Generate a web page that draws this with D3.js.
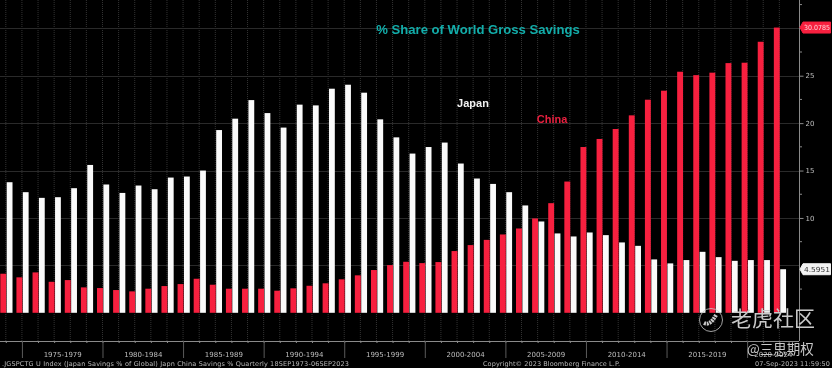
<!DOCTYPE html>
<html>
    <head>
        <meta charset="utf-8">
        <style>
            html, body {
                margin: 0;
                padding: 0;
                background: #000;
            }
            svg {
                display: block;
                filter: blur(0.45px);
            }
            .bar-china { fill: #f7203f; }
            .bar-japan { fill: #fafafa; }
            .grid line { stroke: #2a2a2a; stroke-width: 1; }
            .grid-x line { stroke-dasharray: 1 1; stroke: #333; }
            .axis text {
                font-family: "DejaVu Sans", sans-serif;
                font-size: 7px;
                fill: #bdbdbd;
            }
            .axis path, .axis line { stroke: #8a8a8a; }
            .footer {
                font-family: "DejaVu Sans", sans-serif;
                font-size: 6.5px;
                fill: #b8b8b8;
            }
            .note {
                font-family: "Liberation Sans", Arial, sans-serif;
                font-weight: bold;
            }
            .mark {
                font-family: "Noto Sans CJK SC", sans-serif;
                fill: #c9c9c9;
            }
        </style>
    </head>
    <body>
        <script src="https://d3js.org/d3.v7.min.js"></script>

        <script>
            // one pair of bars per year, first pair sits just before the 1975 separator
            const years = d3.range(1974, 2023);

            const japan = [
                13.77, 12.72, 12.12, 12.19, 13.14, 15.59, 13.53, 12.64, 13.42, 13.03,
                14.26, 14.37, 15.0, 19.27, 20.47, 22.43, 21.06, 19.53, 21.95, 21.87,
                23.63, 24.05, 23.21, 20.4, 18.5, 16.79, 17.48, 17.95, 15.74, 14.16,
                13.59, 12.72, 11.32, 9.63, 8.37, 8.05, 8.47, 8.19, 7.42, 7.06,
                5.63, 5.21, 5.56, 6.43, 5.87, 5.48, 5.56, 5.56, 4.5951
            ];

            const china = [
                4.12, 3.74, 4.26, 3.27, 3.45, 2.68, 2.61, 2.4, 2.26, 2.54,
                2.82, 3.03, 3.59, 2.96, 2.54, 2.54, 2.54, 2.33, 2.58, 2.85,
                3.11, 3.53, 3.95, 4.51, 5.03, 5.38, 5.24, 5.35, 6.51, 7.14,
                7.69, 8.26, 8.89, 9.95, 11.56, 13.84, 17.48, 18.33, 19.38, 20.82,
                22.47, 23.42, 25.42, 25.06, 25.32, 26.33, 26.37, 28.58, 30.0785
            ];

            const periods = [
                "1975-1979", "1980-1984", "1985-1989", "1990-1994", "1995-1999",
                "2000-2004", "2005-2009", "2010-2014", "2015-2019", "2020-2024"
            ];

            const majorTicks = [5, 10, 15, 20, 25, 30];
            const minorTicks = [2.5, 7.5, 12.5, 17.5, 22.5, 27.5, 32.5];
            const labelTicks = [10, 15, 20, 25];

            const width = 832;
            const height = 368;
            const axisX = 799;
            const axisY = 341;

            const svg = d3.select("body").append("svg")
                .attr("width", width)
                .attr("height", height);

            svg.append("rect")
                .attr("width", width)
                .attr("height", height)
                .attr("fill", "#000");

            const xScale = d3.scaleBand()
                .domain(years)
                .range([-1.75, 787.9]);

            const yScale = d3.scaleLinear()
                .domain([0, 30])
                .range([312.8, 28.3]);

            const center = d => xScale(d) + xScale.bandwidth() / 2;

            // period labels sit between separators, last one is cut off by the axis
            const periodScale = d3.scaleBand()
                .domain(periods)
                .range([center(1975), center(1975) + xScale.step() * 5 * periods.length]);

            // grid
            svg.append("g")
                .attr("class", "grid grid-x")
                .selectAll("line")
                .data(years)
                .join("line")
                .attr("x1", d => center(d) - 0.5)
                .attr("x2", d => center(d) - 0.5)
                .attr("y1", 0)
                .attr("y2", axisY);

            svg.append("g")
                .attr("class", "grid")
                .selectAll("line")
                .data(majorTicks)
                .join("line")
                .attr("x1", 0)
                .attr("x2", axisX)
                .attr("y1", d => Math.round(yScale(d)) + 0.5)
                .attr("y2", d => Math.round(yScale(d)) + 0.5);

            // bars
            svg.append("g")
                .selectAll("rect")
                .data(china)
                .join("rect")
                .attr("class", "bar-china")
                .attr("x", (d, i) => center(years[i]) - 6)
                .attr("y", d => yScale(d))
                .attr("width", 5.9)
                .attr("height", d => yScale(0) - yScale(d));

            svg.append("g")
                .selectAll("rect")
                .data(japan)
                .join("rect")
                .attr("class", "bar-japan")
                .attr("x", (d, i) => center(years[i]) + 0.4)
                .attr("y", d => yScale(d))
                .attr("width", 5.8)
                .attr("height", d => yScale(0) - yScale(d));

            // right axis
            const yAxis = d3.axisRight(yScale)
                .tickValues(labelTicks)
                .tickSize(4)
                .tickPadding(2)
                .tickSizeOuter(0);

            svg.append("g")
                .attr("class", "axis")
                .attr("transform", `translate(${axisX + 0.5},0)`)
                .call(yAxis)
                .call(g => g.select(".domain").remove());

            svg.append("line")
                .attr("x1", axisX + 0.5)
                .attr("x2", axisX + 0.5)
                .attr("y1", 0)
                .attr("y2", axisY)
                .attr("stroke", "#8a8a8a");

            const tickGroup = svg.append("g")
                .attr("stroke", "#8a8a8a");

            tickGroup.selectAll("line.minor")
                .data(minorTicks)
                .join("line")
                .attr("class", "minor")
                .attr("x1", axisX)
                .attr("x2", axisX + 3)
                .attr("y1", d => yScale(d))
                .attr("y2", d => yScale(d));

            // bottom axis
            svg.append("line")
                .attr("x1", 0)
                .attr("x2", axisX)
                .attr("y1", axisY + 0.5)
                .attr("y2", axisY + 0.5)
                .attr("stroke", "#8a8a8a");

            const xAxis = d3.axisBottom(xScale)
                .tickValues(years)
                .tickSize(2)
                .tickFormat("");

            svg.append("g")
                .attr("class", "axis")
                .attr("transform", `translate(0,${axisY})`)
                .call(xAxis)
                .call(g => g.select(".domain").remove());

            svg.append("g")
                .selectAll("line")
                .data(years.filter(d => d % 5 === 0))
                .join("line")
                .attr("x1", d => center(d))
                .attr("x2", d => center(d))
                .attr("y1", axisY)
                .attr("y2", 358)
                .attr("stroke", "#5a5a5a");

            svg.append("g")
                .attr("class", "axis")
                .selectAll("text")
                .data(periods)
                .join("text")
                .attr("x", d => {
                    const left = periodScale(d);
                    const right = Math.min(left + periodScale.bandwidth(), axisX);
                    return (left + right) / 2;
                })
                .attr("y", 357)
                .attr("text-anchor", "middle")
                .text(d => d);

            // value tags on the axis
            const tags = [
                {value: china[china.length - 1], label: "30.0785", fill: "#f7203f", color: "#ffd5da"},
                {value: japan[japan.length - 1], label: "4.5951", fill: "#f2f2f2", color: "#333"}
            ];

            const tag = svg.append("g")
                .selectAll("g")
                .data(tags)
                .join("g")
                .attr("transform", d => `translate(${axisX + 1},${yScale(d.value)})`);

            tag.append("path")
                .attr("d", "M0,0L3,-5.5H30.5V5.5H3Z")
                .attr("fill", d => d.fill)
                .attr("stroke", d => d.fill)
                .attr("stroke-linejoin", "round");

            tag.append("text")
                .attr("x", 4)
                .attr("y", 2.6)
                .attr("textLength", 26)
                .attr("lengthAdjust", "spacingAndGlyphs")
                .attr("font-family", "DejaVu Sans, sans-serif")
                .attr("font-size", 7)
                .attr("fill", d => d.color)
                .text(d => d.label);

            // annotations
            const notes = [
                {text: "% Share of World Gross Savings", x: 478, y: 34, size: 13.1, color: "#12adaa"},
                {text: "Japan", x: 473, y: 107, size: 11, color: "#f2f2f2"},
                {text: "China", x: 552, y: 123, size: 11, color: "#e8203f"}
            ];

            svg.append("g")
                .selectAll("text")
                .data(notes)
                .join("text")
                .attr("class", "note")
                .attr("x", d => d.x)
                .attr("y", d => d.y)
                .attr("text-anchor", "middle")
                .attr("font-size", d => d.size)
                .attr("fill", d => d.color)
                .text(d => d.text);

            // footer
            const footers = [
                {text: ".JGSPCTG U Index (Japan Savings % of Global) Japn China Savings %  Quarterly 18SEP1973-06SEP2023", x: 2, len: 347},
                {text: "Copyright\u00a9 2023 Bloomberg Finance L.P.", x: 483, len: 137},
                {text: "07-Sep-2023 11:59:50", x: 755, len: 75}
            ];

            svg.append("g")
                .selectAll("text")
                .data(footers)
                .join("text")
                .attr("class", "footer")
                .attr("x", d => d.x)
                .attr("y", 366)
                .attr("textLength", d => d.len)
                .text(d => d.text);

            // watermark
            const logo = svg.append("g")
                .attr("transform", "translate(711,320)")
                .attr("fill", "none")
                .attr("stroke", "#c9c9c9");

            logo.append("circle")
                .attr("r", 11.5)
                .attr("stroke-width", 0.8);

            logo.append("path")
                .attr("d", "M-7,3Q-1,6 5,-5")
                .attr("stroke-width", 4)
                .attr("stroke-dasharray", "2 0.8");

            svg.append("text")
                .attr("class", "mark")
                .attr("x", 731)
                .attr("y", 326)
                .attr("font-size", 21)
                .text("老虎社区");

            svg.append("text")
                .attr("class", "mark")
                .attr("x", 747)
                .attr("y", 354)
                .attr("font-size", 13.5)
                .text("@三思期权");
        </script>
    </body>
</html>
